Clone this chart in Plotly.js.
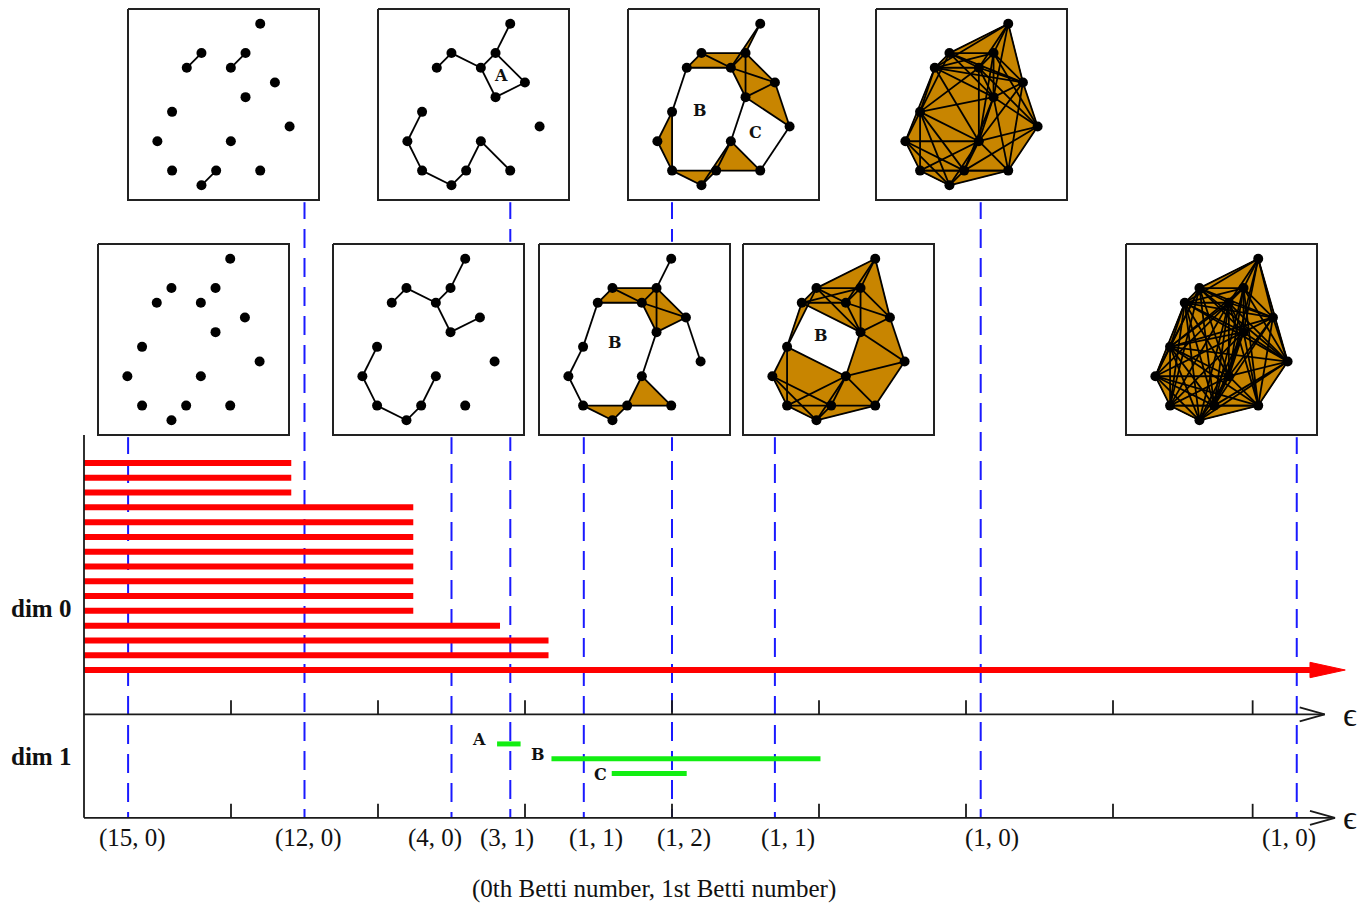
<!DOCTYPE html>
<html><head><meta charset="utf-8">
<script src="https://cdn.plot.ly/plotly-3.0.1.min.js"></script>
<style>html,body{margin:0;padding:0;background:#fff;} #chart{width:1370px;height:908px;}</style>
</head><body><div id="chart"></div>
<script>
// ---------------- data ----------------
const pointsX = [7,3,6,2,5,8,6,1,9,0,5,1,4,7,3];
const pointsY = [0,2,2,3,3,4,5,6,7,8,8,10,10,10,11];
const snapshotEps = [0.3,1.5,2.5,2.9,3.4,4.0,4.7,6.1,8.25];
const snapshotRow = ['bottom','top','bottom','top','bottom','top','bottom','top','bottom'];
const bettiLabels = ['(15, 0)','(12, 0)','(4, 0)','(3, 1)','(1, 1)','(1, 2)','(1, 1)','(1, 0)','(1, 0)'];
const bettiLabelX = [0.33,1.53,2.39,2.88,3.48,4.08,4.79,6.18,8.20];
const dim0Deaths = [1.41,1.41,1.41,2.24,2.24,2.24,2.24,2.24,2.24,2.24,2.24,2.83,3.16,3.16,null];
const dim1Names = ['A','B','C'];
const dim1Births = [2.81,3.18,3.59];
const dim1Deaths = [2.97,5.01,4.10];
const dim1Rows = [19,20,21];
const axisTicks = [1,2,3,4,5,6,7,7.95];
const holeSnap = [3,4,5,5,6];
const holeText = ['A','B','B','C','B'];
const holeX = [6.4,3.2,2.9,6.65,3.3];
const holeY = [3.5,5.7,5.9,7.4,5.2];

// ---------------- layout helpers ----------------
const W = 1370, H = 908;
const X0PX = 84, XUNIT = 147, Y0PX = 463, YUNIT = 14.786;
const xPx = px => (px - X0PX) / XUNIT;
const yPx = py => (py - Y0PX) / YUNIT;
const insetLeft = [98,128,333,378,539,628,743,876,1126];
const INSET = 191, TOPROW = 9, BOTROW = 244;
const insetTop = snapshotRow.map(r => r === 'top' ? TOPROW : BOTROW);
const DIM0_AXIS = 17, DIM1_AXIS = 24;
const ARROW_BACK = 8.34, ARROW_TIP = 8.58;
const BROWN = '#c88500';
const serif = 'Liberation Serif, Times New Roman, serif';
const slab = 'DejaVu Serif, Liberation Serif, serif';

const traces = [];
const annotations = [];

// dashed snapshot lines
snapshotEps.forEach((e, k) => {
  traces.push({x:[e,e], y:[yPx(insetTop[k] + INSET), DIM1_AXIS], mode:'lines',
    line:{color:'#1a1aff', width:2, dash:'19px,10px'}, xaxis:'x', yaxis:'y', hoverinfo:'skip'});
});

// dim 0 bars
const rx = [], ry = [];
let infRow = 0;
dim0Deaths.forEach((d, i) => {
  if (d === null) infRow = i;
  rx.push(0, d === null ? ARROW_BACK : d, null); ry.push(i, i, null);
});
traces.push({x:rx, y:ry, mode:'lines', line:{color:'#ff0000', width:6}, xaxis:'x', yaxis:'y', hoverinfo:'skip'});
traces.push({x:[ARROW_BACK, ARROW_TIP, ARROW_BACK, ARROW_BACK], y:[infRow-0.52, infRow, infRow+0.52, infRow-0.52],
  mode:'lines', fill:'toself', fillcolor:'#ff0000', line:{color:'#ff0000', width:1}, xaxis:'x', yaxis:'y', hoverinfo:'skip'});

// dim 1 bars
const gx = [], gy = [];
dim1Births.forEach((b, i) => { gx.push(b, dim1Deaths[i], null); gy.push(dim1Rows[i], dim1Rows[i], null); });
traces.push({x:gx, y:gy, mode:'lines', line:{color:'#12ee12', width:5}, xaxis:'x', yaxis:'y', hoverinfo:'skip'});

// axes
const ax = [], ay = [];
const seg = (x1,y1,x2,y2) => { ax.push(x1,x2,null); ay.push(y1,y2,null); };
seg(0, yPx(435), 0, DIM1_AXIS);
seg(0, DIM0_AXIS, 8.44, DIM0_AXIS);
seg(0, DIM1_AXIS, 8.51, DIM1_AXIS);
ax.push(8.27, 8.44, 8.27, null); ay.push(DIM0_AXIS-0.48, DIM0_AXIS, DIM0_AXIS+0.48, null);
ax.push(8.34, 8.51, 8.34, null); ay.push(DIM1_AXIS-0.48, DIM1_AXIS, DIM1_AXIS+0.48, null);
axisTicks.forEach(t => { seg(t, DIM0_AXIS, t, DIM0_AXIS-0.95); seg(t, DIM1_AXIS, t, DIM1_AXIS-0.95); });
traces.push({x:ax, y:ay, mode:'lines', line:{color:'#1a1a1a', width:1.8}, xaxis:'x', yaxis:'y', hoverinfo:'skip'});

// text in main area
bettiLabels.forEach((t, k) => annotations.push({x:bettiLabelX[k], y:yPx(838), xref:'x', yref:'y', text:t,
  showarrow:false, font:{family:serif, size:25, color:'#111'}, xanchor:'center', yanchor:'middle'}));
annotations.push({x:xPx(654), y:yPx(889), xref:'x', yref:'y', text:'(0th Betti number, 1st Betti number)',
  showarrow:false, font:{family:serif, size:25, color:'#111'}, xanchor:'center', yanchor:'middle'});
annotations.push({x:xPx(9), y:yPx(608), xref:'x', yref:'y', text:'<b>dim 0</b>', showarrow:false,
  font:{family:serif, size:25, color:'#111'}, xanchor:'left', yanchor:'middle'});
annotations.push({x:xPx(9), y:yPx(756), xref:'x', yref:'y', text:'<b>dim 1</b>', showarrow:false,
  font:{family:serif, size:25, color:'#111'}, xanchor:'left', yanchor:'middle'});
[DIM0_AXIS, DIM1_AXIS].forEach(v => annotations.push({x:xPx(1341), y:v, xref:'x', yref:'y', text:'ϵ', showarrow:false,
  font:{family:serif, size:34, color:'#111'}, xanchor:'left', yanchor:'middle'}));
const dim1LabelX = [xPx(479), xPx(538), xPx(600)];
const dim1LabelY = [18.7, 19.7, 21.1];
dim1Names.forEach((n, i) => annotations.push({x:dim1LabelX[i], y:dim1LabelY[i], xref:'x', yref:'y', text:'<b>'+n+'</b>',
  showarrow:false, font:{family:slab, size:16, color:'#111'}, xanchor:'center', yanchor:'middle'}));

// ---------------- insets (Vietoris-Rips complexes) ----------------
const layout = {
  width:W, height:H, margin:{l:0,r:0,t:0,b:0,pad:0}, paper_bgcolor:'#ffffff', plot_bgcolor:'#ffffff',
  showlegend:false, hovermode:false,
  xaxis:{domain:[0,1], range:[xPx(0), xPx(W)], visible:false, fixedrange:true},
  yaxis:{domain:[0,1], range:[yPx(H), yPx(0)], visible:false, fixedrange:true},
  annotations: annotations
};
const n = pointsX.length;
const dist = (i,j) => Math.hypot(pointsX[i]-pointsX[j], pointsY[i]-pointsY[j]);
const PAD = 0.15, UPX = INSET / 13;
snapshotEps.forEach((eps, k) => {
  const id = k + 2, xa = 'x' + id, ya = 'y' + id;
  const L = insetLeft[k], T = insetTop[k];
  layout['xaxis' + id] = {domain:[(L - PAD*UPX)/W, (L + INSET + PAD*UPX)/W], range:[-2-PAD, 11+PAD],
    anchor:ya, visible:false, fixedrange:true};
  layout['yaxis' + id] = {domain:[1 - (T + INSET + PAD*UPX)/H, 1 - (T - PAD*UPX)/H], range:[12+PAD, -1-PAD],
    anchor:xa, visible:false, fixedrange:true};
  traces.push({x:[-2,11,11,-2,-2], y:[-1,-1,12,12,-1], mode:'lines', fill:'toself', fillcolor:'#ffffff',
    line:{color:'#222', width:2}, xaxis:xa, yaxis:ya, hoverinfo:'skip'});
  const adj = (i,j) => dist(i,j) <= eps + 1e-6;
  const tx = [], ty = [];
  for (let a = 0; a < n; a++) for (let b = a+1; b < n; b++) if (adj(a,b)) for (let c = b+1; c < n; c++) {
    if (adj(a,c) && adj(b,c)) {
      let p = [a,b,c];
      const cr = (pointsX[b]-pointsX[a])*(pointsY[c]-pointsY[a]) - (pointsY[b]-pointsY[a])*(pointsX[c]-pointsX[a]);
      if (cr < 0) p = [a,c,b];
      p.forEach(q => { tx.push(pointsX[q]); ty.push(pointsY[q]); });
      tx.push(pointsX[p[0]], null); ty.push(pointsY[p[0]], null);
    }
  }
  if (tx.length) traces.push({x:tx, y:ty, mode:'lines', fill:'toself', fillcolor:BROWN,
    line:{color:BROWN, width:0.5}, xaxis:xa, yaxis:ya, hoverinfo:'skip'});
  const ex = [], ey = [];
  for (let a = 0; a < n; a++) for (let b = a+1; b < n; b++) if (adj(a,b)) {
    ex.push(pointsX[a], pointsX[b], null); ey.push(pointsY[a], pointsY[b], null);
  }
  if (ex.length) traces.push({x:ex, y:ey, mode:'lines', line:{color:'#000', width:1.8}, xaxis:xa, yaxis:ya, hoverinfo:'skip'});
  traces.push({x:pointsX, y:pointsY, mode:'markers', marker:{color:'#000', size:10}, xaxis:xa, yaxis:ya, hoverinfo:'skip'});
  holeSnap.forEach((s, h) => { if (s === k) annotations.push({x:holeX[h], y:holeY[h], xref:xa, yref:ya,
    text:'<b>'+holeText[h]+'</b>', showarrow:false, font:{family:slab, size:16, color:'#111'}, xanchor:'center', yanchor:'middle'}); });
});

Plotly.newPlot('chart', traces, layout, {displayModeBar:false, staticPlot:true});
</script>
</body></html>
